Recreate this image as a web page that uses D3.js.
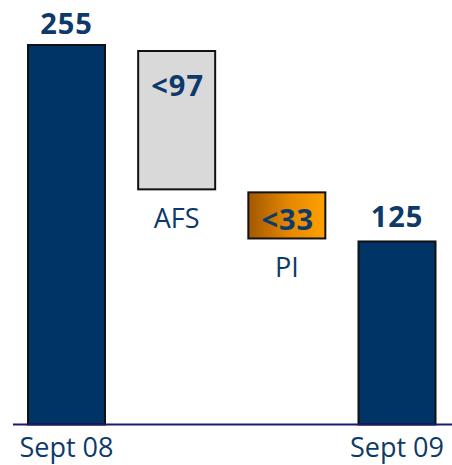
<!DOCTYPE html>
<html><head><meta charset="utf-8">
<script src="https://cdn.jsdelivr.net/npm/d3@7"></script>
<style>body{margin:0;background:#fff}svg{display:block}</style>
</head><body>
<svg id="c" width="452" height="465"></svg>
<script>
const categories = ["Sept 08", "AFS", "PI", "Sept 09"];
const values = [255, -97, -33, 125];
const kinds = ["total", "delta", "delta", "total"];
const valueLabels = ["255", "<97", "<33", "125"];

const svg = d3.select("#c");
const x = d3.scalePoint().domain(categories).range([66.5, 397]);
const y = d3.scaleLinear().domain([0, 255]).range([424.5, 45]);

// compute waterfall spans
let run = 0;
const bars = categories.map((c, i) => {
  let lo, hi;
  if (kinds[i] === "total") { lo = 0; hi = values[i]; run = values[i]; }
  else { hi = run; lo = run + values[i]; run = lo; }
  return {c, i, lo, hi, kind: kinds[i], label: valueLabels[i]};
});

const defs = svg.append("defs");
const g = defs.append("linearGradient").attr("id", "orange").attr("x1", "0").attr("x2", "1").attr("y1", "0").attr("y2", "0");
g.append("stop").attr("offset", "0").attr("stop-color", "#a35800");
g.append("stop").attr("offset", "0.55").attr("stop-color", "#e68a00");
g.append("stop").attr("offset", "1").attr("stop-color", "#ffa000");

const fills = ["#003366", "#d9d9d9", "url(#orange)", "#003366"];
const bw = 77;
const inset = [0, 6, 3, 3];

svg.selectAll("rect.bar").data(bars).enter().append("rect")
  .attr("class", "bar")
  .attr("x", d => x(d.c) - bw / 2)
  .attr("y", d => y(d.hi) + inset[d.i])
  .attr("width", bw)
  .attr("height", d => y(d.lo) - y(d.hi) - inset[d.i])
  .attr("fill", d => fills[d.i])
  .attr("stroke", "#111")
  .attr("stroke-width", 2);

// axis line
svg.append("line").attr("x1", 13).attr("x2", 452).attr("y1", y(0)).attr("y2", y(0))
  .attr("stroke", "#1b1b6e").attr("stroke-width", 2);

const txtCol = "#0d3a6a";
const font = "'Open Sans', 'Noto Sans', sans-serif";

// value labels
svg.selectAll("text.val").data(bars).enter().append("text")
  .attr("class", "val")
  .attr("x", d => x(d.c) + (d.kind === "total" ? 0 : 1))
  .attr("y", d => d.kind === "total" ? y(d.hi) - 11 : y(d.hi) + inset[d.i] + (d.i === 1 ? 45 : 38))
  .attr("text-anchor", "middle")
  .attr("font-family", font).attr("font-weight", "bold").attr("font-size", 29)
  .attr("letter-spacing", 1)
  .attr("fill", txtCol)
  .text(d => d.label);

// category labels
svg.selectAll("text.cat").data(bars).enter().append("text")
  .attr("class", "cat")
  .attr("x", d => x(d.c))
  .attr("y", d => d.kind === "total" ? 457 : y(d.lo) + 39)
  .attr("text-anchor", "middle")
  .attr("font-family", font).attr("font-size", 27)
  .attr("fill", txtCol)
  .text(d => d.c);
</script>
</body></html>
